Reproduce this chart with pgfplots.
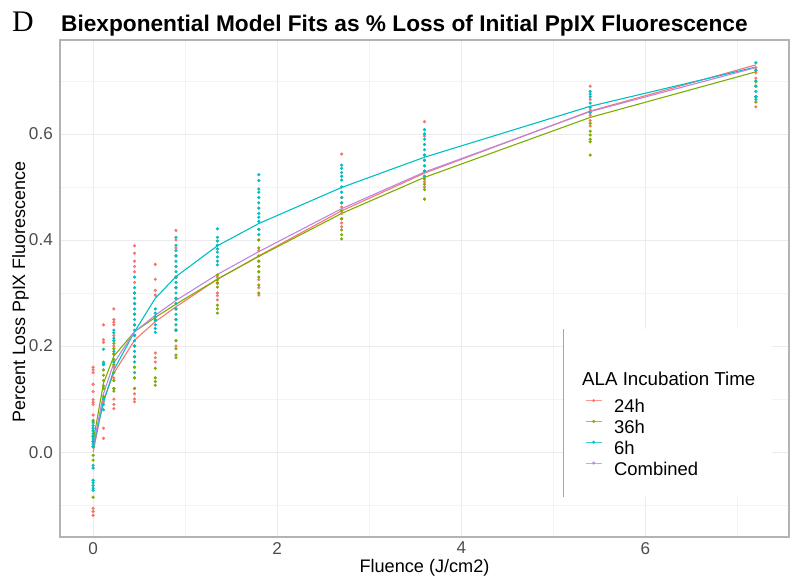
\documentclass[border=0pt]{standalone}
\usepackage{fontspec}
\setmainfont{Liberation Sans}
\newfontfamily\serifD{Liberation Serif}
\usepackage{pgfplots}
\pgfplotsset{compat=1.18}
\definecolor{c24}{HTML}{F8766D}
\definecolor{c36}{HTML}{7CAE00}
\definecolor{c6}{HTML}{00BFC4}
\definecolor{ccomb}{HTML}{BB86E6}
\definecolor{tickgray}{HTML}{4D4D4D}
\definecolor{bordergray}{HTML}{B3B3B3}
\definecolor{gridmaj}{HTML}{EBEBEB}
\definecolor{gridmin}{HTML}{F3F3F3}
\begin{document}
\begin{tikzpicture}
\path[use as bounding box] (0bp,0bp) rectangle (796bp,582bp);
\begin{axis}[
  at={(60bp,45bp)}, anchor=south west,
  scale only axis, width=729bp, height=497bp,
  xmin=-0.36, xmax=7.56, ymin=-0.160, ymax=0.777,
  xtick={0,2,4,6}, ytick={0,0.2,0.4,0.6},
  minor xtick={1,3,5,7}, minor ytick={-0.1,0.1,0.3,0.5,0.7},
  grid=both,
  major grid style={draw=gridmaj, line width=0.6bp},
  minor grid style={draw=gridmin, line width=0.4bp},
  major tick length=0pt, minor tick length=0pt,
  axis line style={draw=bordergray, line width=1.1bp},
  /pgf/number format/assume math mode=true,
  yticklabel style={/pgf/number format/fixed, /pgf/number format/fixed zerofill, /pgf/number format/precision=1},
  xticklabel style={font=\fontsize{17.2}{20}\selectfont, text=tickgray, anchor=north, inner sep=0pt, yshift=-5bp},
  yticklabel style={font=\fontsize{17.2}{20}\selectfont, text=tickgray, anchor=east, inner sep=0pt, xshift=-7bp},
  xlabel={Fluence (J/cm2)},
  ylabel={Percent Loss PpIX Fluorescence},
  xlabel style={font=\fontsize{18.2}{21}\selectfont, at={(axis description cs:0.5,-0.0724)}, anchor=base, inner sep=0pt},
  ylabel style={font=\fontsize{18}{21}\selectfont, at={(axis description cs:-0.0480,0.493)}, anchor=base, inner sep=0pt},
  legend style={at={(axis description cs:0.7202,0.2780)}, anchor=north west, draw=none, fill=none,
    inner sep=0pt, font=\fontsize{18.5}{21}\selectfont, row sep=5.2bp,
    nodes={inner sep=0pt, text height=13bp, text depth=2bp},
    /tikz/every odd column/.append style={column sep=12bp}},
  legend cell align=left,
  legend image code/.code={\draw[#1, line width=0.9bp, opacity=0.75] (0bp,6.5bp) -- (16bp,6.5bp); \fill[#1, opacity=0.85] (8bp,6.5bp) circle (1.4bp);},
]
% ---- points 24h ----
\addplot[only marks, color=c24, mark=*, mark size=1.4bp, forget plot] coordinates {
(0,0.160)(0,0.155)(0,0.150)(0,0.128)(0,0.114)(0,0.099)(0,0.094)(0,0.090)(0,0.070)(0,0.055)(0,0.030)(0,0.010)(0,-0.106)(0,-0.112)(0,-0.119)
(0.1125,0.240)(0.1125,0.212)(0.1125,0.207)(0.1125,0.170)(0.1125,0.120)(0.1125,0.095)(0.1125,0.045)(0.1125,0.026)
(0.225,0.270)(0.225,0.250)(0.225,0.245)(0.225,0.240)(0.225,0.220)(0.225,0.200)(0.225,0.185)(0.225,0.160)(0.225,0.140)(0.225,0.120)(0.225,0.100)(0.225,0.090)(0.225,0.082)
(0.45,0.389)(0.45,0.375)(0.45,0.360)(0.45,0.350)(0.45,0.340)(0.45,0.320)(0.45,0.300)(0.45,0.280)(0.45,0.260)(0.45,0.240)(0.45,0.220)(0.45,0.200)(0.45,0.180)(0.45,0.160)(0.45,0.140)(0.45,0.120)(0.45,0.110)(0.45,0.100)(0.45,0.095)
(0.675,0.354)(0.675,0.326)(0.675,0.305)(0.675,0.296)(0.675,0.187)(0.675,0.178)(0.675,0.170)
(0.9,0.418)(0.9,0.400)(0.9,0.385)(0.9,0.370)(0.9,0.350)(0.9,0.330)(0.9,0.310)(0.9,0.290)(0.9,0.270)(0.9,0.250)(0.9,0.230)(0.9,0.210)(0.9,0.200)
(1.35,0.330)(1.35,0.320)(1.35,0.300)(1.35,0.295)(1.35,0.287)
(1.8,0.460)(1.8,0.420)(1.8,0.400)(1.8,0.380)(1.8,0.360)(1.8,0.350)(1.8,0.340)(1.8,0.325)(1.8,0.310)(1.8,0.296)
(2.7,0.562)(2.7,0.520)(2.7,0.480)(2.7,0.462)(2.7,0.450)(2.7,0.440)(2.7,0.432)(2.7,0.425)
(3.6,0.623)(3.6,0.596)(3.6,0.580)(3.6,0.560)(3.6,0.540)(3.6,0.520)(3.6,0.510)(3.6,0.500)
(5.4,0.690)(5.4,0.665)(5.4,0.645)(5.4,0.635)(5.4,0.625)(5.4,0.615)
(7.2,0.725)(7.2,0.715)(7.2,0.705)(7.2,0.690)(7.2,0.670)(7.2,0.651)
};
% ---- points 36h ----
\addplot[only marks, color=c36, mark=*, mark size=1.4bp, forget plot] coordinates {
(0,0.060)(0,0.040)(0,0.030)(0,0.020)(0,0.010)(0,-0.006)(0,-0.015)(0,-0.085)
(0.1125,0.155)(0.1125,0.145)(0.1125,0.135)(0.1125,0.125)(0.1125,0.120)(0.1125,0.105)
(0.225,0.205)(0.225,0.195)(0.225,0.185)(0.225,0.175)(0.225,0.165)(0.225,0.150)(0.225,0.135)(0.225,0.120)(0.225,0.115)
(0.45,0.300)(0.45,0.280)(0.45,0.260)(0.45,0.240)(0.45,0.220)(0.45,0.200)(0.45,0.180)(0.45,0.160)(0.45,0.140)(0.45,0.120)
(0.675,0.250)(0.675,0.158)(0.675,0.140)(0.675,0.133)(0.675,0.126)
(0.9,0.330)(0.9,0.310)(0.9,0.290)(0.9,0.270)(0.9,0.250)(0.9,0.230)(0.9,0.210)(0.9,0.195)(0.9,0.183)(0.9,0.178)
(1.35,0.334)(1.35,0.325)(1.35,0.318)(1.35,0.311)(1.35,0.277)(1.35,0.270)(1.35,0.262)
(1.8,0.400)(1.8,0.385)(1.8,0.370)(1.8,0.360)(1.8,0.350)(1.8,0.340)(1.8,0.330)(1.8,0.315)(1.8,0.300)
(2.7,0.470)(2.7,0.455)(2.7,0.440)(2.7,0.419)(2.7,0.410)(2.7,0.402)
(3.6,0.550)(3.6,0.530)(3.6,0.515)(3.6,0.505)(3.6,0.495)(3.6,0.477)
(5.4,0.620)(5.4,0.605)(5.4,0.598)(5.4,0.590)(5.4,0.585)(5.4,0.560)
(7.2,0.720)(7.2,0.698)(7.2,0.690)(7.2,0.670)(7.2,0.660)
};
% ---- points 6h ----
\addplot[only marks, color=c6, mark=*, mark size=1.4bp, forget plot] coordinates {
(0,0.057)(0,0.050)(0,0.045)(0,0.040)(0,0.035)(0,0.030)(0,0.025)(0,0.020)(0,0.015)(0,0.010)(0,-0.025)(0,-0.030)(0,-0.053)(0,-0.058)(0,-0.063)(0,-0.068)(0,-0.072)
(0.1125,0.194)(0.1125,0.168)(0.1125,0.165)(0.1125,0.100)(0.1125,0.090)(0.1125,0.080)
(0.225,0.230)(0.225,0.225)(0.225,0.215)(0.225,0.210)(0.225,0.190)(0.225,0.170)
(0.45,0.330)(0.45,0.310)(0.45,0.300)(0.45,0.290)(0.45,0.280)(0.45,0.270)(0.45,0.260)(0.45,0.250)(0.45,0.240)(0.45,0.230)(0.45,0.220)(0.45,0.210)(0.45,0.200)(0.45,0.190)(0.45,0.180)(0.45,0.170)(0.45,0.150)
(0.675,0.270)(0.675,0.262)(0.675,0.255)(0.675,0.248)(0.675,0.240)(0.675,0.233)(0.675,0.226)
(0.9,0.405)(0.9,0.390)(0.9,0.380)(0.9,0.370)(0.9,0.360)(0.9,0.350)(0.9,0.340)(0.9,0.330)(0.9,0.320)(0.9,0.310)(0.9,0.300)(0.9,0.290)(0.9,0.280)(0.9,0.270)(0.9,0.260)(0.9,0.250)(0.9,0.240)(0.9,0.230)
(1.35,0.421)(1.35,0.405)(1.35,0.398)(1.35,0.390)(1.35,0.383)(1.35,0.377)(1.35,0.368)(1.35,0.360)(1.35,0.353)
(1.8,0.523)(1.8,0.512)(1.8,0.496)(1.8,0.490)(1.8,0.480)(1.8,0.470)(1.8,0.460)(1.8,0.450)(1.8,0.443)(1.8,0.435)(1.8,0.420)(1.8,0.410)
(2.7,0.541)(2.7,0.535)(2.7,0.527)(2.7,0.520)(2.7,0.513)(2.7,0.500)(2.7,0.490)(2.7,0.480)(2.7,0.470)
(3.6,0.608)(3.6,0.600)(3.6,0.590)(3.6,0.580)(3.6,0.570)(3.6,0.560)(3.6,0.550)(3.6,0.540)(3.6,0.530)(3.6,0.520)
(5.4,0.680)(5.4,0.675)(5.4,0.670)(5.4,0.658)(5.4,0.650)(5.4,0.640)
(7.2,0.734)(7.2,0.720)(7.2,0.700)(7.2,0.690)(7.2,0.680)(7.2,0.670)(7.2,0.665)
};
% ---- fitted lines ----
\addplot[c24, line width=1.1bp, forget plot] coordinates {(0,0.000)(0.1125,0.098)(0.225,0.149)(0.45,0.211)(0.675,0.246)(0.9,0.274)(1.35,0.326)(1.8,0.370)(2.7,0.455)(3.6,0.526)(5.4,0.643)(7.2,0.730)};
\addplot[c36, line width=1.1bp, forget plot] coordinates {(0,0.020)(0.1125,0.130)(0.225,0.181)(0.45,0.227)(0.675,0.254)(0.9,0.279)(1.35,0.326)(1.8,0.369)(2.7,0.450)(3.6,0.518)(5.4,0.631)(7.2,0.717)};
\addplot[c6, line width=1.1bp, forget plot] coordinates {(0,0.010)(0.1125,0.094)(0.225,0.155)(0.45,0.227)(0.675,0.290)(0.9,0.331)(1.35,0.389)(1.8,0.431)(2.7,0.499)(3.6,0.556)(5.4,0.652)(7.2,0.726)};
\addplot[ccomb, line width=1.1bp, forget plot] coordinates {(0,0.010)(0.1125,0.110)(0.225,0.168)(0.45,0.227)(0.675,0.258)(0.9,0.286)(1.35,0.335)(1.8,0.378)(2.7,0.459)(3.6,0.528)(5.4,0.642)(7.2,0.725)};
% ---- legend box ----
\fill[white] (axis description cs:0.6900,0.0805) rectangle (axis description cs:0.9767,0.4185);
\draw[draw=black!35, line width=0.8bp] (axis description cs:0.6900,0.0805) -- (axis description cs:0.6900,0.4185);
\node[anchor=base west, inner sep=0pt, font=\fontsize{18.8}{22}\selectfont] at (axis description cs:0.7160,0.3058) {ALA Incubation Time};
\addlegendimage{c24}\addlegendentry{24h}
\addlegendimage{c36}\addlegendentry{36h}
\addlegendimage{c6}\addlegendentry{6h}
\addlegendimage{ccomb}\addlegendentry{Combined}
\end{axis}
\node[anchor=base west, inner sep=0pt, font=\serifD\fontsize{30}{34}\selectfont] at (12bp,550bp) {D};
\node[anchor=base west, inner sep=0pt, font=\bfseries\fontsize{22.75}{26}\selectfont] at (61bp,550bp) {Biexponential Model Fits as \% Loss of Initial PpIX Fluorescence};
\end{tikzpicture}
\end{document}
